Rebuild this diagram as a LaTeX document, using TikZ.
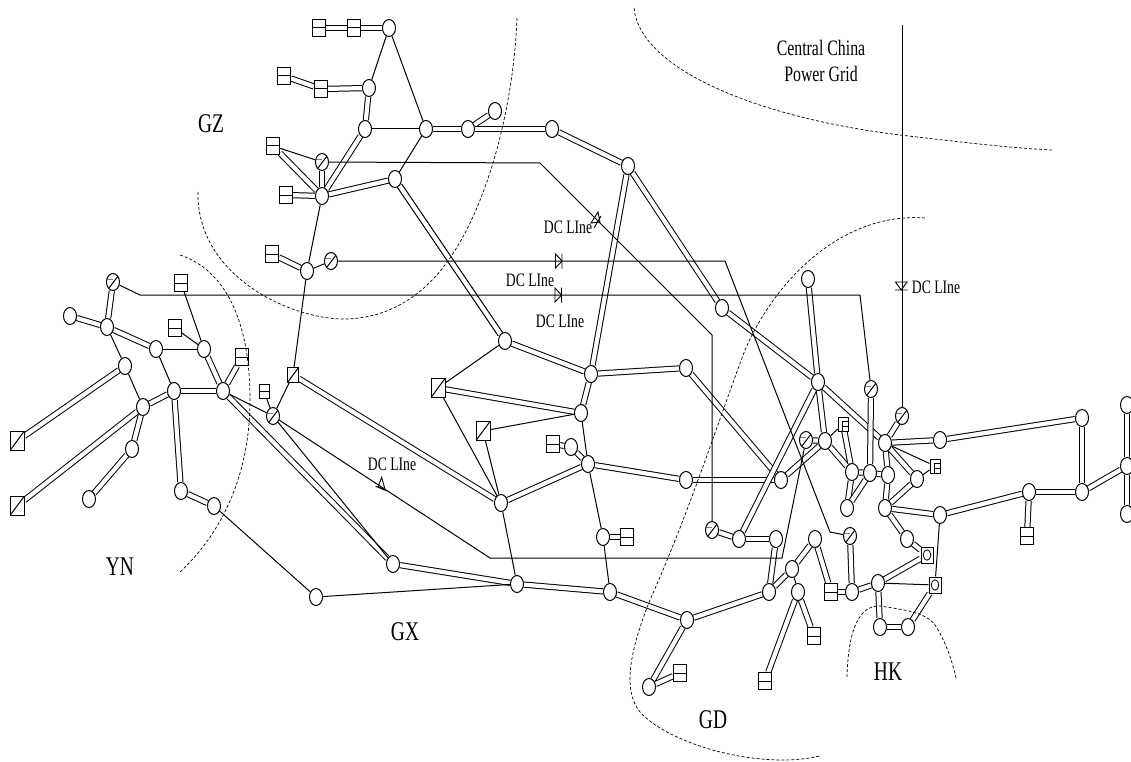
\documentclass[tikz,border=0pt]{standalone}
\usepackage{fontspec}
\usetikzlibrary{shapes.geometric,calc}
\newfontfamily\labfont[FakeStretch=0.72]{Liberation Serif}
\pgfdeclarelayer{edges}
\pgfsetlayers{edges,main}
\tikzset{
  bus/.style={draw,fill=white,ellipse,inner sep=0pt,minimum width=13pt,minimum height=17pt,line width=1pt},
  gen/.style={bus,path picture={
    \draw[line width=1pt] ([shift={(-4,6)}]path picture bounding box.center) -- ([shift={(5,-6)}]path picture bounding box.center);
    \draw[gray,line width=.6pt] ([shift={(-6,-3)}]path picture bounding box.center) -- ([shift={(0,-3)}]path picture bounding box.center);
  }},
  hbox/.style={draw,fill=white,rectangle,inner sep=0pt,minimum width=13pt,minimum height=17pt,line width=1pt,path picture={
    \draw[line width=1pt] (path picture bounding box.west) -- (path picture bounding box.east);
  }},
  dbox/.style={draw,fill=white,rectangle,inner sep=0pt,minimum width=14pt,minimum height=19pt,line width=1pt,path picture={
    \draw[line width=1pt] (path picture bounding box.south west) -- (path picture bounding box.north east);
  }},
  obox/.style={draw,fill=white,rectangle,inner sep=0pt,minimum width=12pt,minimum height=16pt,line width=1pt,path picture={
    \draw[line width=.8pt] (path picture bounding box.center) ellipse (3.8pt and 5.2pt);
  }},
  lbox/.style={draw,fill=white,rectangle,inner sep=0pt,minimum width=10pt,minimum height=14pt,line width=1pt,path picture={
    \draw[line width=.8pt] ([shift={(-1,7)}]path picture bounding box.center) -- ([shift={(-1,-3)}]path picture bounding box.center) -- ([shift={(5,-3)}]path picture bounding box.center);
    \draw[line width=.8pt] ([shift={(-1,2)}]path picture bounding box.center) -- ([shift={(5,2)}]path picture bounding box.center);
  }},
  small/.style={minimum width=10pt,minimum height=14pt},
  dbl/.style={draw,line width=1pt,double,double distance=4.2pt},
  sgl/.style={draw,line width=1pt},
  region/.style={draw,line width=.7pt,dash pattern=on 3pt off 2pt},
  biglabel/.style={inner sep=0pt,font=\labfont\fontsize{27}{29}\selectfont},
  dclabel/.style={inner sep=0pt,font=\labfont\fontsize{19}{21}\selectfont},
  cclabel/.style={inner sep=0pt,align=center,font=\labfont\fontsize{22}{26}\selectfont},
  diode/.style={draw,line width=.9pt}
}
\begin{document}
\begin{tikzpicture}[x=1pt,y=-1pt]
\useasboundingbox (0,0) rectangle (1131,762);
% plain buses
\foreach \n/\x/\y in {
 n70/70/316,n107/107/327,n156/156/349,n204/204/349,n125/125/366,n143/143/407,n174/174/391,n223/223/391,
 n132/132/449,n89/89/499,n181/181/491,n214/214/506,n316/316/597,n393/393/564,
 n389/389/28,n369/369/88,n365/365/129,n426/426/129,n468/468/129,n495/495/111,n552/552/129,n628/628/166,
 n322/322/196,n395/395/179,n307/307/271,n722/722/308,
 n505/505/341,n591/591/374,n686a/686/368,n581/581/413,n571/571/447,n588/588/464,n686b/686/480,n501/501/503,
 n603/603/537,n517/517/584,n610/610/592,n687/687/620,n649/649/687,
 n818/818/382,n825/825/441,n885a/885/443,n940a/940/440,n852a/852/472,n870/870/473,n888/888/475,n917/917/479,
 n781/781/480,n847/847/508,n885b/885/508,n940b/940/515,n739/739/539,n776/776/539,n815/815/539,n907/907/539,
 n792/792/569,n878/878/583,n769/769/592,n798/798/592,n852b/852/592,n880/880/627,n908/908/627,n809/808/279,
 n1082a/1082/418,n1029/1029/492,n1082b/1082/492,n1127a/1127/405,n1127b/1127/466,n1127c/1127/514}
 {\node[bus,name=\n] at (\x,\y) {};}
% slashed buses
\foreach \n/\x/\y in {g113/113/282,g273/273/416,g322/322/162,g331/331/261,g712/712/530,g871/871/389,g902/902/416,g806/806/440,g850/850/536}
 {\node[gen,name=\n] at (\x,\y) {};}
% two-part boxes
\foreach \n/\x/\y in {h181/181/283,h175/175/328,h242/242/357,h319/319/28,h354/354/28,h284/284/76,h321/321/89,h273/273/146,h286/286/195,h272/272/254,
 h553/553/444,h627/627/537,h680/680/673,h814/814/636,h765/765/681,h831/831/592,h1027/1027/536}
 {\node[hbox,name=\n] at (\x,\y) {};}
\node[hbox,small,name=h264] at (264,391) {};
% diagonal boxes
\foreach \n/\x/\y in {d17a/17/441,d17b/17/506,d438/438/388,d483/483/431}
 {\node[dbox,name=\n] at (\x,\y) {};}
\node[dbox,minimum width=11pt,minimum height=15pt,name=d293] at (293,375) {};
% circled boxes
\node[obox,name=o927] at (927,555) {};
\node[obox,name=o935] at (935,585) {};
% small marked boxes
\node[lbox,name=l843] at (843,424) {};
\node[lbox,name=l935] at (935,466) {};
% DC line corners
\coordinate (c1) at (140,295);
\coordinate (c2) at (860,295);
\coordinate (c3) at (540,163);
\coordinate (c4) at (712,335);
\coordinate (c5) at (725,261);
\coordinate (c6) at (830,532);
\coordinate (c7) at (490,558);
\coordinate (c8) at (782,558);
\coordinate (top) at (902,25);
\begin{pgfonlayer}{edges}
\foreach \a/\b in {
 g113/n107,n70/n107,n107/n156,n125/d17a,n204/n223,n223/h242,n143/n174,n174/n223,n143/d17b,n143/n132,n132/n89,n174/n181,n181/n214,
 n223/n393,d293/n501,n393/n517,n517/n610,n610/n687,n687/n769,n687/n649,n649/h680,
 n501/n588,d438/n581,n581/n591,n591/n505,n591/n628,n591/n686a,n686a/n781,n505/n395,n588/n571,n571/h553,n588/n686b,n686b/n781,n603/h627,
 n628/n722,n722/n818,n818/n885a,n818/n739,n818/n825,n781/n825,g806/n825,n809/n818,
 n825/n852a,l843/n852a,n852a/n870,n870/n888,n870/g871,n888/n885a,n888/n885b,n852a/n847,n870/n847,n885a/g902,n885a/n940a,n940a/n1082a,
 n1082a/n1082b,n1082b/n1029,n1029/n940b,n1029/h1027,n885b/n940b,n885b/n917,n885a/n917,n885b/n907,n907/o927,o927/n878,o935/n908,
 n878/n880,n880/n908,n878/n852b,n852b/h831,n852b/g850,n815/h831,n815/n792,n792/n769,n798/h814,n798/h765,n776/n769,n739/n776,g712/n739,
 n1082b/n1127b,n1127a/n1127b,n1127b/n1127c,
 h319/h354,h354/n389,h284/h321,h321/n369,n369/n365,n426/n468,n468/n495,n468/n552,n552/n628,n395/n322,n365/n322,h273/n322,g322/n322,h286/n322,h272/n307,n395/n505}
 {\path[dbl] (\a) -- (\b);}
\foreach \a/\b in {
 n107/n125,n125/n143,n156/n174,n156/n204,n204/h181,n204/h175,n223/g273,h264/g273,g273/d293,d293/n307,g273/n393,n214/n316,n316/n517,
 n517/n501,n501/d438,n501/d483,d438/n505,d483/n581,n581/n588,n588/n603,n603/n610,
 n825/l843,n885a/l935,n917/l935,n940b/o935,o935/n878,n792/n798,
 n389/n369,n389/n426,n365/n426,n426/n395,h273/g322,n322/n307,n307/g331}
 {\path[sgl] (\a) -- (\b);}
\path[sgl] (g113) -- (c1) -- (c2) -- (g871);
\path[sgl] (g322) -- (c3) -- (c4) -- (g712);
\path[sgl] (g331) -- (c5) -- (c6) -- (g850);
\path[sgl] (g273) -- (c7) -- (c8) -- (g806);
\path[sgl] (top) -- (g902);
\end{pgfonlayer}
% DC line valves
\draw[diode] (555.5,254) -- (562,261) -- (555.5,268) -- cycle (562,253.5) -- (562,268.5);
\draw[diode] (555,288) -- (561.5,295) -- (555,302) -- cycle (561.5,287.5) -- (561.5,302.5);
\draw[diode] (895.5,282) -- (907,282) -- (901.2,290) -- cycle (895,290) -- (907.5,290);
\draw[diode] (381.7,477.3) -- (378,487) -- (385,489.5) -- cycle (375.5,486.2) -- (387,491);
\draw[diode] (598,212) -- (591,223) -- (600,222) -- cycle (594,228) -- (601,216);
% region boundaries
\path[region] (517,18) .. controls (514,100) and (490,205) .. (445,265) .. controls (420,298) and (385,320) .. (340,319) .. controls (280,316) and (195,270) .. (198,190);
\path[region] (634,8) .. controls (640,70) and (760,118) .. (900,135) .. controls (960,142) and (1010,148) .. (1052,150);
\path[region] (180,255) .. controls (225,270) and (250,320) .. (250,400) .. controls (250,470) and (225,530) .. (180,572);
\path[region] (925,218) .. controls (850,212) and (780,270) .. (745,350) .. controls (715,430) and (690,510) .. (650,600) .. controls (630,650) and (622,690) .. (640,712) .. controls (670,745) and (760,770) .. (820,756);
\path[region] (847,677) .. controls (848,640) and (855,605) .. (880,606) .. controls (905,610) and (925,612) .. (935,625) .. controls (945,640) and (952,660) .. (956,678);
% labels
\node[biglabel] (lgz) at (211,124) {GZ};
\node[biglabel] (lyn) at (120,567) {YN};
\node[biglabel] (lgx) at (405,632) {GX};
\node[biglabel] (lgd) at (713,720) {GD};
\node[biglabel] (lhk) at (888,672) {HK};
\node[cclabel] (lcc) at (821,61) {Central China\\Power Grid};
\node[dclabel] (ldc1) at (568,227) {DC LIne};
\node[dclabel] (ldc2) at (530,280) {DC LIne};
\node[dclabel] (ldc3) at (560,321) {DC LIne};
\node[dclabel] (ldc4) at (392,464) {DC LIne};
\node[dclabel] (ldc5) at (936,287) {DC LIne};
\end{tikzpicture}
\end{document}
